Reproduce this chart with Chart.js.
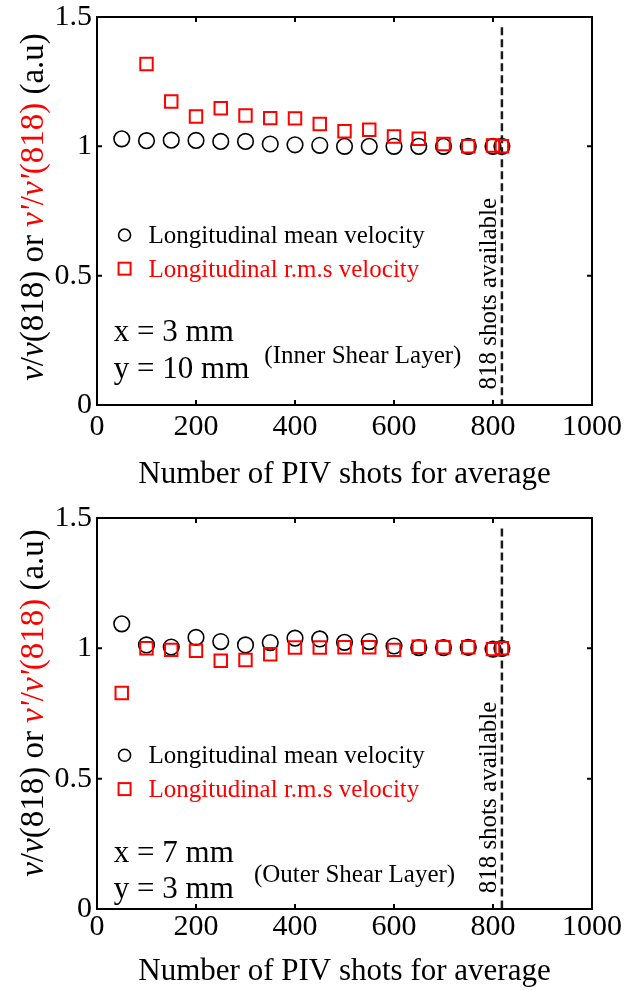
<!DOCTYPE html>
<html>
<head>
<meta charset="utf-8">
<script src="https://cdn.jsdelivr.net/npm/chart.js@4.4.1/dist/chart.umd.min.js"></script>
<style>
  html, body { margin: 0; padding: 0; background: #fff; }
  #wrap { position: relative; width: 624px; height: 990px; }
  canvas { position: absolute; left: 0; }
</style>
</head>
<body>
<div id="wrap">
  <canvas id="top" width="624" height="495" style="top:0"></canvas>
  <canvas id="bottom" width="624" height="495" style="top:495px"></canvas>
</div>
<script>
// number of PIV shots used for the average
const shots = [50, 100, 150, 200, 250, 300, 350, 400, 450, 500, 550, 600, 650, 700, 750, 800, 818];

// x = 3 mm, y = 10 mm (inner shear layer)
const innerMean = [1.029, 1.022, 1.024, 1.023, 1.019, 1.019, 1.009, 1.006, 1.004, 1.0, 1.0, 1.0, 1.0, 1.0, 1.0, 1.0, 1.0];
const innerRms  = [null, 1.318, 1.173, 1.115, 1.147, 1.119, 1.109, 1.108, 1.086, 1.058, 1.064, 1.038, 1.029, 1.009, 1.0, 1.003, 1.0];

// x = 7 mm, y = 3 mm (outer shear layer)
const outerMean = [1.094, 1.013, 1.005, 1.042, 1.026, 1.013, 1.022, 1.039, 1.036, 1.023, 1.026, 1.009, 1.003, 1.003, 1.004, 0.997, 1.0];
const outerRms  = [0.829, 1.0, 0.994, 0.991, 0.952, 0.955, 0.977, 1.003, 1.003, 1.004, 1.004, 0.994, 1.006, 1.004, 1.004, 0.997, 1.0];

const xTicks = [0, 200, 400, 600, 800, 1000];
const yTicks = [0, 0.5, 1, 1.5];
const availableShots = 818;
const dashRange = [0, 1.46];

const FONT = '"Liberation Serif", "Times New Roman", serif';
Chart.defaults.font.family = FONT;
Chart.defaults.color = '#000';

function pts(ys) {
  return shots.map((x, i) => ({ x: x, y: ys[i] })).filter(p => p.y !== null);
}

// box, inward ticks, legend, annotations, y title
const deco = {
  id: 'deco',
  afterDraw(chart, args, o) {
    const ctx = chart.ctx;
    const { left, right, top, bottom } = chart.chartArea;
    const xs = chart.scales.x, ys = chart.scales.y;
    const px = v => xs.getPixelForValue(v), py = v => ys.getPixelForValue(v);
    ctx.save();
    ctx.strokeStyle = '#000';
    ctx.lineWidth = 2;
    ctx.setLineDash([]);
    ctx.strokeRect(left, top, right - left, bottom - top);
    ctx.beginPath();
    xTicks.slice(1, -1).forEach(v => {
      const x = px(v);
      ctx.moveTo(x, bottom); ctx.lineTo(x, bottom - 5);
      ctx.moveTo(x, top); ctx.lineTo(x, top + 5);
    });
    yTicks.slice(1, -1).forEach(v => {
      const y = py(v);
      ctx.moveTo(left, y); ctx.lineTo(left + 5, y);
      ctx.moveTo(right, y); ctx.lineTo(right - 5, y);
    });
    ctx.stroke();

    // legend
    ctx.lineWidth = 1.6;
    ctx.beginPath();
    ctx.arc(px(55.7), py(o.legY[0]), 6, 0, Math.PI * 2);
    ctx.stroke();
    ctx.strokeStyle = '#ff0000';
    ctx.lineWidth = 2;
    ctx.strokeRect(px(55.7) - 6, py(o.legY[1]) - 6, 12, 12);
    ctx.textAlign = 'left';
    ctx.textBaseline = 'alphabetic';
    ctx.font = '25px ' + FONT;
    ctx.fillStyle = '#000';
    ctx.fillText('Longitudinal mean velocity', px(104), py(o.legY[0]) + 8);
    ctx.fillStyle = '#ff0000';
    ctx.fillText('Longitudinal r.m.s velocity', px(104), py(o.legY[1]) + 8);

    // position text
    ctx.fillStyle = '#000';
    ctx.font = '31px ' + FONT;
    ctx.fillText(o.posX, px(34), py(o.posY[0]));
    ctx.fillText(o.posY2, px(34), py(o.posY[1]));
    ctx.font = '25px ' + FONT;
    ctx.fillText(o.layer, px(o.layerAt[0]), py(o.layerAt[1]));

    // rotated note near the dashed line
    ctx.save();
    ctx.translate(px(807), py(0.06));
    ctx.rotate(-Math.PI / 2);
    ctx.fillText(availableShots + ' shots available', 0, 0);
    ctx.restore();

    // y axis title, mixed colours
    const segs = [
      { t: 'v', it: true, c: '#000' }, { t: '/', c: '#000' }, { t: 'v', it: true, c: '#000' },
      { t: '(818) or ', c: '#000' },
      { t: "v'", it: true, c: '#ff0000' }, { t: '/', c: '#ff0000' }, { t: "v'", it: true, c: '#ff0000' },
      { t: '(818)', c: '#ff0000' }, { t: ' (a.u)', c: '#000' }
    ];
    const f = s => (s.it ? 'italic ' : '') + '33px ' + FONT;
    let total = 0;
    segs.forEach(s => { ctx.font = f(s); s.w = ctx.measureText(s.t).width; total += s.w; });
    ctx.save();
    ctx.translate(34, o.titleY);
    ctx.rotate(-Math.PI / 2);
    ctx.textBaseline = 'middle';
    let x = -total / 2;
    segs.forEach(s => { ctx.font = f(s); ctx.fillStyle = s.c; ctx.fillText(s.t, x, 0); x += s.w; });
    ctx.restore();
    ctx.restore();
  }
};

function makeChart(id, mean, rms, o) {
  return new Chart(document.getElementById(id).getContext('2d'), {
    type: 'scatter',
    data: {
      datasets: [
        {
          label: 'Longitudinal r.m.s velocity',
          data: pts(rms),
          pointStyle: 'rect',
          pointRadius: 8.8,
          borderColor: '#ff0000',
          backgroundColor: 'rgba(0,0,0,0)',
          borderWidth: 2,
          order: 0
        },
        {
          label: 'Longitudinal mean velocity',
          data: pts(mean),
          pointStyle: 'circle',
          pointRadius: 7.8,
          borderColor: '#000',
          backgroundColor: 'rgba(0,0,0,0)',
          borderWidth: 1.6,
          order: 1
        },
        {
          label: 'available',
          data: [{ x: availableShots, y: dashRange[1] }, { x: availableShots, y: dashRange[0] }],
          showLine: true,
          pointRadius: 0,
          borderColor: '#1a1a1a',
          borderWidth: 2.5,
          borderDash: [8, 4],
          order: 2
        }
      ]
    },
    options: {
      responsive: false,
      animation: false,
      devicePixelRatio: 1,
      layout: { padding: { left: 0, right: 32, top: o.padTop, bottom: 0 } },
      plugins: {
        legend: { display: false },
        tooltip: { enabled: false },
        deco: o
      },
      scales: {
        x: {
          type: 'linear',
          min: 0, max: 1000,
          grid: { display: false, drawTicks: false },
          border: { display: false },
          ticks: { font: { size: 30 }, padding: o.xTickPad, maxRotation: 0, callback: v => String(v) },
          afterBuildTicks: s => { s.ticks = xTicks.map(v => ({ value: v })); },
          afterFit: s => { s.height = o.xHeight; s.paddingLeft = 0; s.paddingRight = 0; },
          title: {
            display: true,
            text: 'Number of PIV shots for average',
            font: { size: 31 },
            padding: { top: 0, bottom: o.titlePad }
          }
        },
        y: {
          type: 'linear',
          min: 0, max: 1.5,
          grid: { display: false, drawTicks: false },
          border: { display: false },
          ticks: { font: { size: 30 }, padding: 5, callback: v => String(v) },
          afterBuildTicks: s => { s.ticks = yTicks.map(v => ({ value: v })); },
          afterFit: s => { s.width = 97; s.paddingTop = 0; s.paddingBottom = 0; }
        }
      }
    },
    plugins: [deco]
  });
}

makeChart('top', innerMean, innerRms, {
  padTop: 17, xHeight: 90, xTickPad: 4, titlePad: 2, titleY: 207,
  legY: [0.657, 0.527],
  posX: 'x = 3 mm', posY2: 'y = 10 mm', posY: [0.246, 0.106],
  layer: '(Inner Shear Layer)', layerAt: [338, 0.163]
});
makeChart('bottom', outerMean, outerRms, {
  padTop: 23, xHeight: 81, xTickPad: 0, titlePad: 0, titleY: 208,
  legY: [0.590, 0.460],
  posX: 'x = 7 mm', posY2: 'y = 3 mm', posY: [0.181, 0.041],
  layer: '(Outer Shear Layer)', layerAt: [317, 0.105]
});
</script>
</body>
</html>
